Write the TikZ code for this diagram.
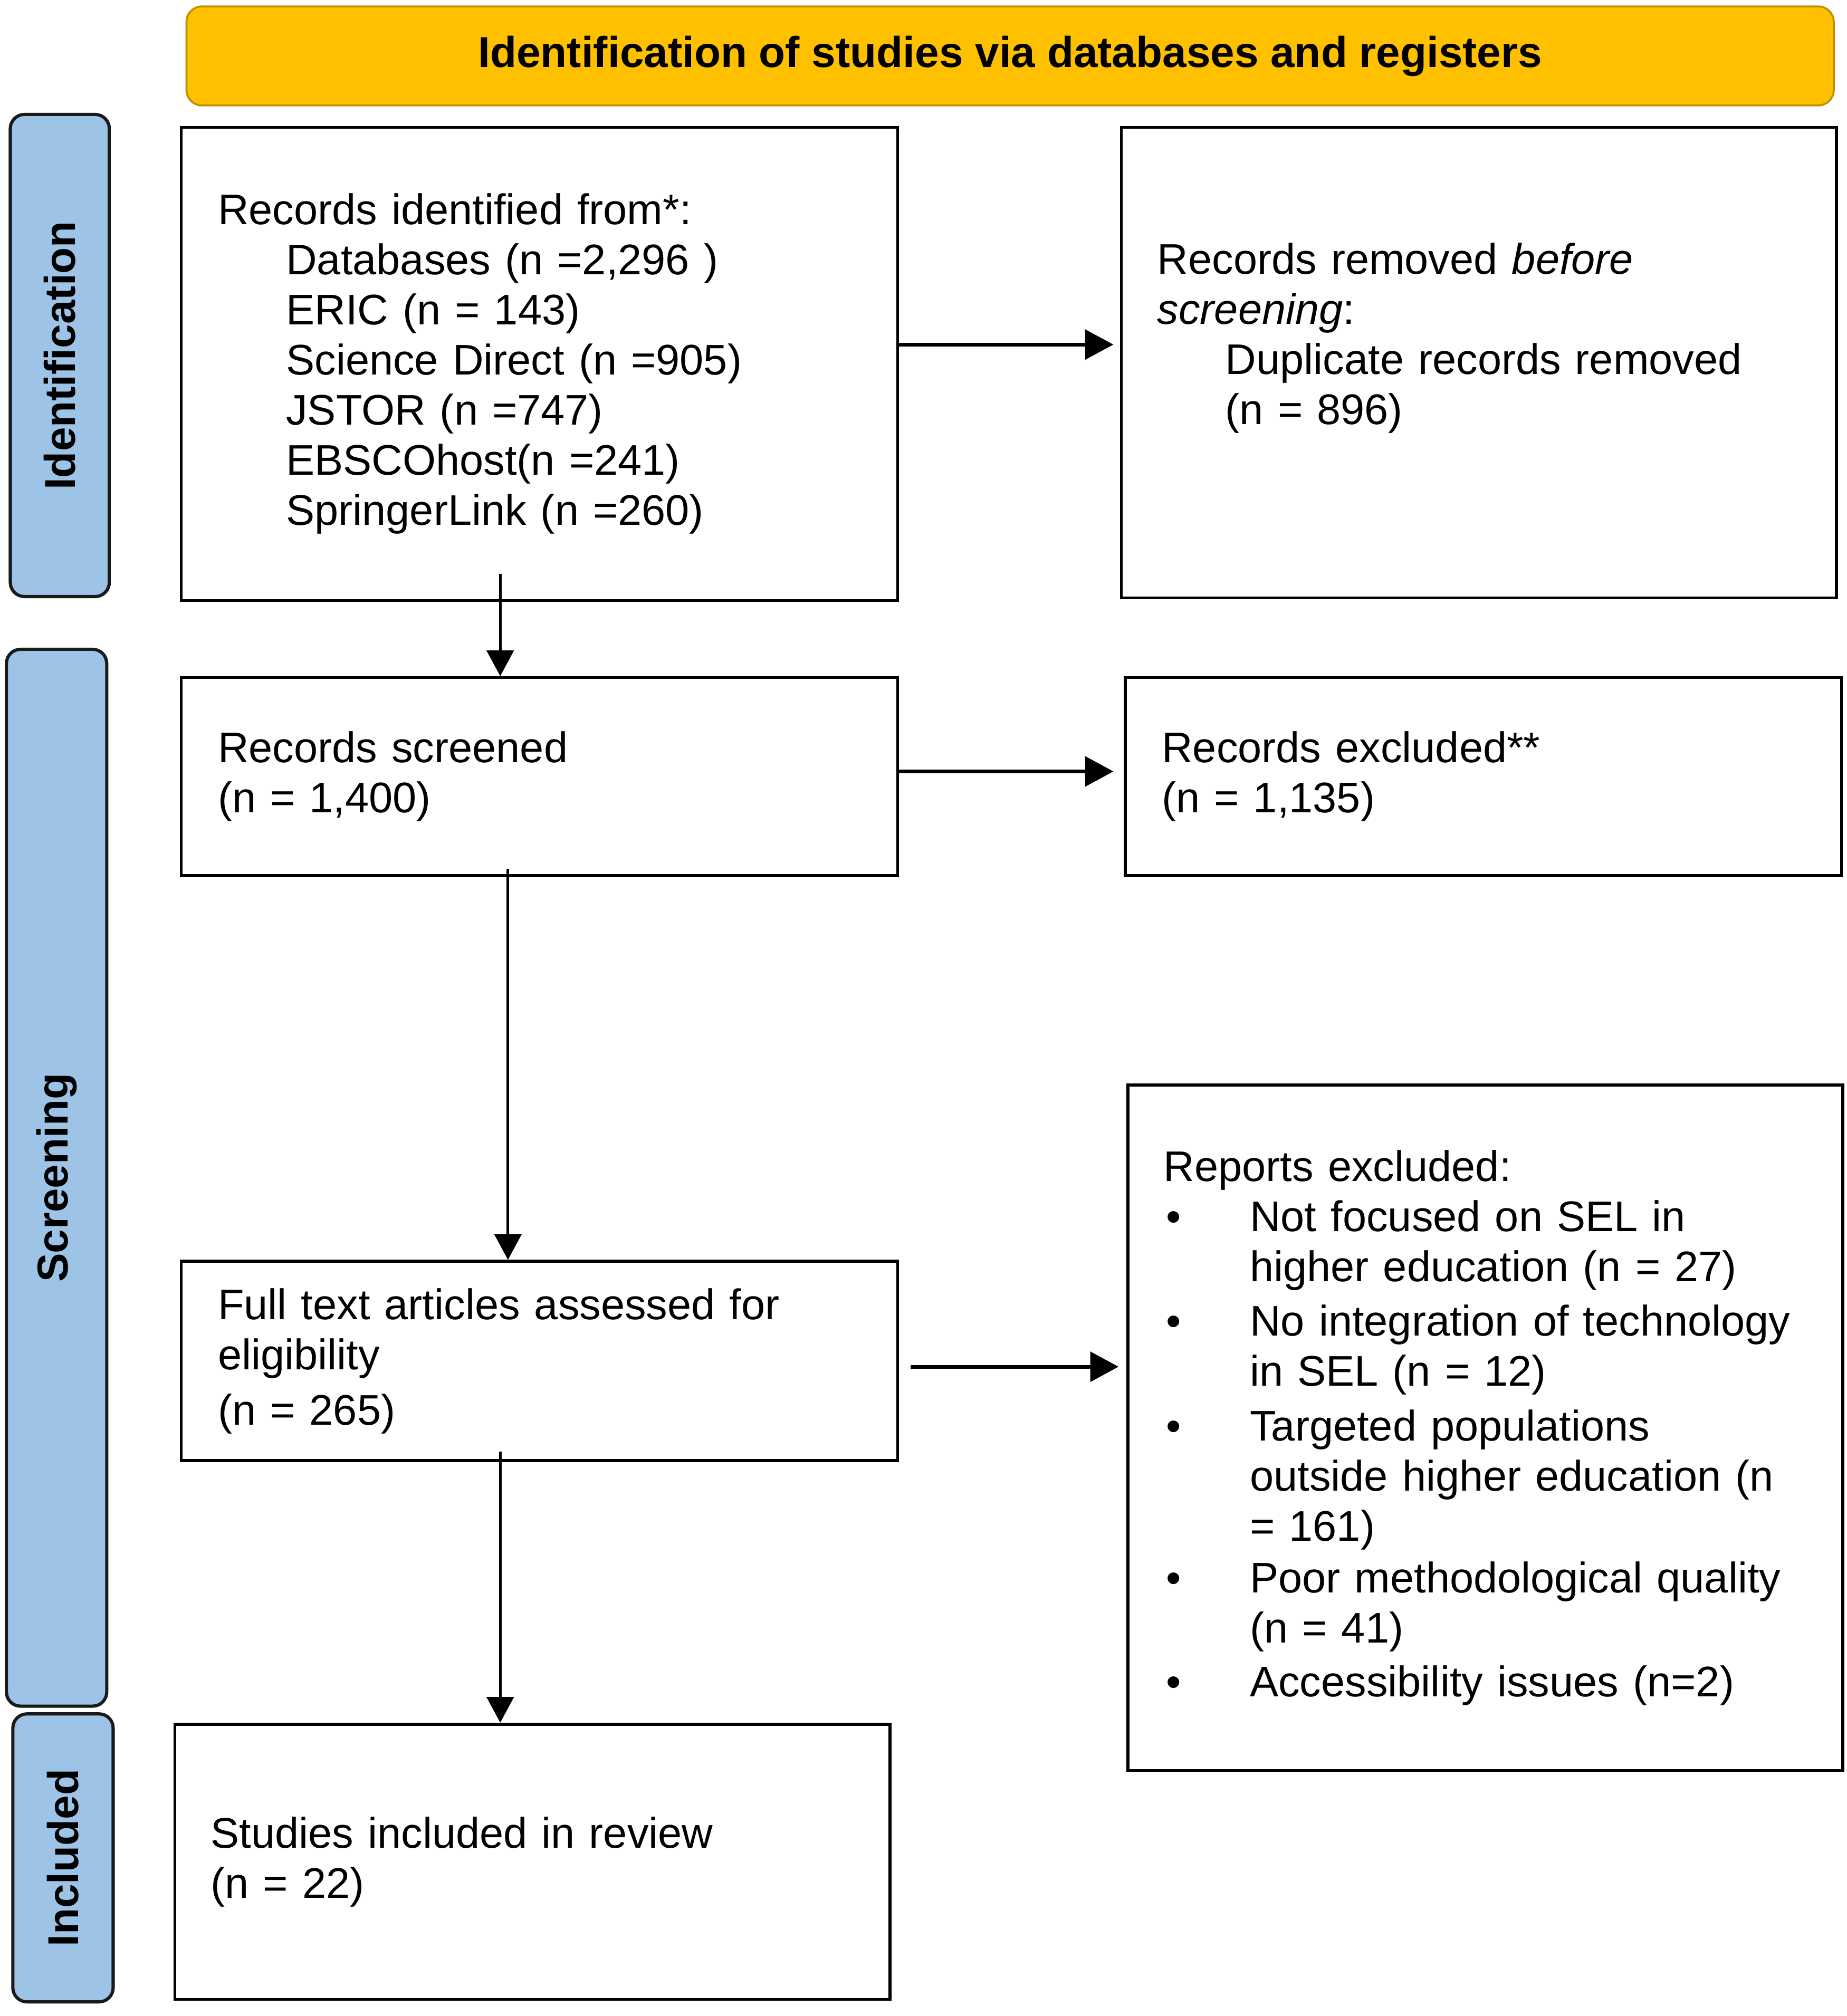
\documentclass[tikz,border=0pt]{standalone}
\usepackage{fontspec}
\setmainfont{Liberation Sans}
\usetikzlibrary{arrows.meta,calc}
\definecolor{hdrfill}{HTML}{FFC000}
\definecolor{hdrdraw}{HTML}{BF9000}
\definecolor{sidefill}{HTML}{9DC3E6}
\definecolor{sidedraw}{HTML}{1A1A1A}
\newcommand\mainfs{\fontsize{33.3pt}{39pt}\selectfont}
\newcommand\ind{\hspace*{53pt}}
\newcommand\bul{\makebox[67pt][l]{\hspace{2pt}\textbullet}}
\newcommand\cont{\hspace*{67pt}}
\begin{document}
\begin{tikzpicture}[x=1pt,y=-1pt,
  box/.style={draw=black, line width=2.3pt, fill=white, inner xsep=28pt, inner ysep=0pt,
    text width=500pt, align=left, font=\mainfs},
  side/.style={draw=sidedraw, fill=sidefill, line width=2.5pt, rounded corners=11pt,
    inner sep=0pt, font=\fontsize{33.6pt}{39pt}\selectfont\bfseries},
  hdr/.style={draw=hdrdraw, fill=hdrfill, line width=1.5pt, rounded corners=12pt,
    inner sep=0pt, font=\fontsize{33.6pt}{39pt}\selectfont\bfseries},
  arrv/.style={line width=2pt, -{Triangle[length=20pt,width=21pt]}},
  arrh/.style={line width=2.8pt, -{Triangle[length=22pt,width=23pt]}}]
\useasboundingbox[fill=white] (0,0) rectangle (1436,1568);

% header
\node[hdr, minimum width=1281pt, minimum height=77pt] (hdr) at (785.5,43.5)
  {Identification of studies via databases and registers};

% side labels
\node[side, minimum width=77pt, minimum height=375pt] (sid) at (46.5,276.5)
  {\rotatebox{90}{Identification}};
\node[side, minimum width=78pt, minimum height=822pt] (sscr) at (44,916)
  {\rotatebox{90}{Screening}};
\node[side, minimum width=78pt, minimum height=224pt] (sinc) at (49,1445)
  {\rotatebox{90}{Included}};

% left column
\node[box, minimum width=557pt, minimum height=368pt] (b1) at (419.5,283)
  {Records identified from*:\\
   \ind Databases (n =2,296 )\\
   \ind ERIC (n = 143)\\
   \ind Science Direct (n =905)\\
   \ind JSTOR (n =747)\\
   \ind EBSCOhost(n =241)\\
   \ind SpringerLink (n =260)};
\node[box, minimum width=557pt, minimum height=154pt] (b2) at (419.5,604)
  {Records screened\\(n = 1,400)};
\node[box, minimum width=557pt, minimum height=155pt] (b3) at (419.5,1058.5)
  {Full text articles assessed for\\eligibility\\[4pt](n = 265)};
\node[box, minimum width=556pt, minimum height=214pt] (b4) at (414,1448)
  {Studies included in review\\(n = 22)};

% right column
\node[box, minimum width=556pt, minimum height=366pt] (r1) at (1150,282)
  {Records removed \textit{before}\\
   \textit{screening}:\\
   \ind Duplicate records removed\\
   \ind (n = 896)\\[6pt]
   \mbox{}};
\node[box, minimum width=557pt, minimum height=154pt] (r2) at (1153.5,604)
  {Records excluded**\\(n = 1,135)};
\node[box, minimum width=554pt, minimum height=533pt] (r3) at (1155,1110.5)
  {Reports excluded:\\
   \bul Not focused on SEL in\\
   \cont higher education (n = 27)\\[3.5pt]
   \bul No integration of technology\\
   \cont in SEL (n = 12)\\[3.5pt]
   \bul Targeted populations\\
   \cont outside higher education (n\\
   \cont = 161)\\[1pt]
   \bul Poor methodological quality\\
   \cont (n = 41)\\[3pt]
   \bul Accessibility issues (n=2)};

% vertical connectors
\draw[arrv] ($(b1.south)+(-30.5,-22)$) coordinate (s1) -- (s1 |- b2.north);
\draw[arrv] ($(b2.south)+(-24.5,-6)$) coordinate (s2) -- (s2 |- b3.north);
\draw[arrv] ($(b3.south)+(-30.5,-8)$) coordinate (s3) -- (s3 |- b4.north);

% horizontal connectors
\draw[arrh] ($(b1.east)+(0,-15)$) coordinate (h1) -- ($(h1 -| r1.west)+(-5,0)$);
\draw[arrh] ($(b2.east)+(0,-4)$) coordinate (h2) -- ($(h2 -| r2.west)+(-8,0)$);
\draw[arrh] ($(b3.east)+(9,4.5)$) coordinate (h3) -- ($(h3 -| r3.west)+(-6,0)$);
\end{tikzpicture}
\end{document}
